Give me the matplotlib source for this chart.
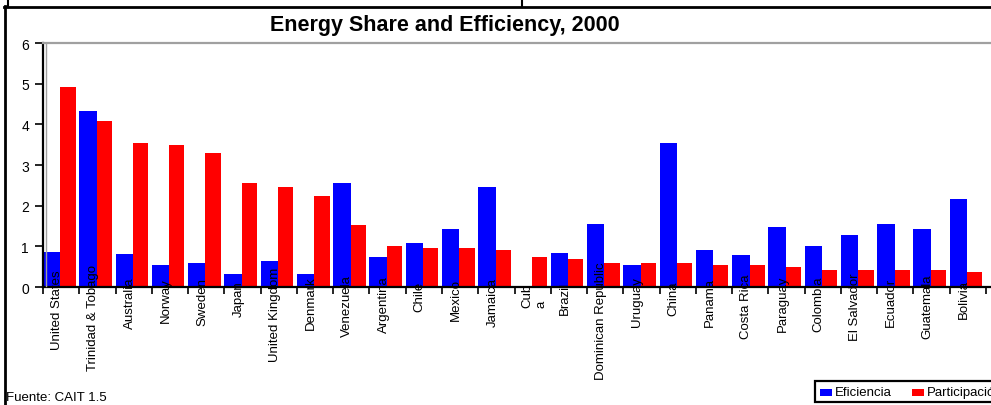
import matplotlib
matplotlib.use("Agg")
import matplotlib.pyplot as plt
from matplotlib.lines import Line2D
from matplotlib.patches import Rectangle
import numpy as np

plt.rcParams['font.family'] = ['Liberation Sans', 'DejaVu Sans']

countries = ["United States", "Trinidad & Tobago", "Australia", "Norway", "Sweden",
             "Japan", "United Kingdom", "Denmark", "Venezuela", "Argentina", "Chile",
             "Mexico", "Jamaica", "Cub\na", "Brazil", "Dominican Republic", "Uruguay",
             "China", "Panama", "Costa Rica", "Paraguay", "Colombia", "El Salvador",
             "Ecuador", "Guatemala", "Bolivia"]
eficiencia = [0.87, 4.32, 0.82, 0.53, 0.58, 0.33, 0.63, 0.33, 2.55, 0.73, 1.07,
              1.42, 2.45, 0.0, 0.83, 1.56, 0.53, 3.54, 0.92, 0.78, 1.47, 1.02,
              1.27, 1.56, 1.42, 2.16]
participacion = [4.92, 4.08, 3.54, 3.49, 3.29, 2.55, 2.46, 2.25, 1.52, 1.02, 0.97,
                 0.97, 0.92, 0.73, 0.68, 0.58, 0.58, 0.58, 0.53, 0.53, 0.48, 0.43,
                 0.43, 0.43, 0.43, 0.38]
y_ticks = [0, 1, 2, 3, 4, 5, 6]
title = "Energy Share and Efficiency, 2000"
source = "Fuente: CAIT 1.5"
series_names = ["Eficiencia", "Participación"]

W, H = 991, 406
fig = plt.figure(figsize=(W / 100, H / 100), dpi=100)


def fx(px):
    return px / W


def fy(py):
    return 1 - py / H


# plot area: left edge at 43px, baseline at 288px, top at 44px; runs off the right edge
ax_left, ax_right, ax_top, ax_bot = 43, 991, 44, 288
ax = fig.add_axes([fx(ax_left), fy(ax_bot), fx(ax_right - ax_left), (ax_bot - ax_top) / H])

cat_px = (986 - 43) / 26.0
n = len(countries)
x = np.arange(n)
ax.bar(x, eficiencia, width=0.48, align='edge', color='#0000ff', linewidth=0, zorder=2)
ax.bar(x + 0.48, participacion, width=0.42, align='edge', color='#ff0000', linewidth=0, zorder=2)

ax.set_xlim(0, (ax_right - ax_left) / cat_px)
ax.set_ylim(0, 6)
ax.set_yticks(y_ticks)
ax.set_yticklabels([str(v) for v in y_ticks], fontsize=10)
ax.set_xticks(np.arange(n + 1))
ax.set_xticklabels([])
ax.tick_params(axis='y', direction='out', length=6, width=1.2, pad=4, colors='black')
ax.tick_params(axis='x', direction='out', length=5, width=1.2)

ax.spines['right'].set_visible(False)
ax.spines['top'].set_color('#a0a0a0')
ax.spines['top'].set_linewidth(1.6)
ax.spines['left'].set_linewidth(1.6)
ax.spines['bottom'].set_linewidth(1.6)
ax.patch.set_alpha(0)

# thin grey plot-area edge beside the value axis
fig.add_artist(Line2D([fx(45.5), fx(45.5)], [fy(44), fy(287)], color='#a0a0a0', lw=1.0))

# outer chart frame
fig.add_artist(Line2D([fx(4), fx(991)], [fy(8), fy(8)], color='black', lw=2.0))
fig.add_artist(Line2D([fx(4.5), fx(4.5)], [fy(7), fy(406)], color='black', lw=2.0))
fig.add_artist(Line2D([fx(8), fx(8)], [fy(0), fy(8)], color='black', lw=1.5))
fig.add_artist(Line2D([fx(521.5), fx(521.5)], [fy(0), fy(8)], color='black', lw=1.5))

fig.text(fx(445), fy(26), title, fontsize=15.5, fontweight='bold', ha='center', va='center')
fig.text(fx(6), fy(398), source, fontsize=9.5, ha='left', va='center')

# category labels, rotated and partly sitting over the bars
fig.canvas.draw()
renderer = fig.canvas.get_renderer()
for i, name in enumerate(countries):
    xc_disp = ax.transData.transform((i + 0.5, 0))[0] - 4
    wrapped = "\n" in name
    ha = 'left' if wrapped else 'center'
    xpos = xc_disp - 7 if wrapped else xc_disp
    t = fig.text(xpos / W, fy(289), name, rotation=90, fontsize=9.5,
                 ha=ha, va='top', multialignment='left')
    L = t.get_window_extent(renderer).height
    top = 289 - 0.23 * L
    t.set_position((xpos / W, fy(top)))

# legend box
lg = Rectangle((fx(815), fy(403)), fx(300), (403 - 382) / H, transform=fig.transFigure,
               facecolor='white', edgecolor='black', lw=1.6)
fig.add_artist(lg)
fig.add_artist(Rectangle((fx(820), fy(397)), fx(12), 7 / H, transform=fig.transFigure,
                         facecolor='#0000ff', edgecolor='none'))
fig.text(fx(835), fy(393), series_names[0], fontsize=9.5, ha='left', va='center')
fig.add_artist(Rectangle((fx(912), fy(397)), fx(12), 7 / H, transform=fig.transFigure,
                         facecolor='#ff0000', edgecolor='none'))
fig.text(fx(927), fy(393), series_names[1], fontsize=9.5, ha='left', va='center')

fig.savefig("out.png", dpi=100)
